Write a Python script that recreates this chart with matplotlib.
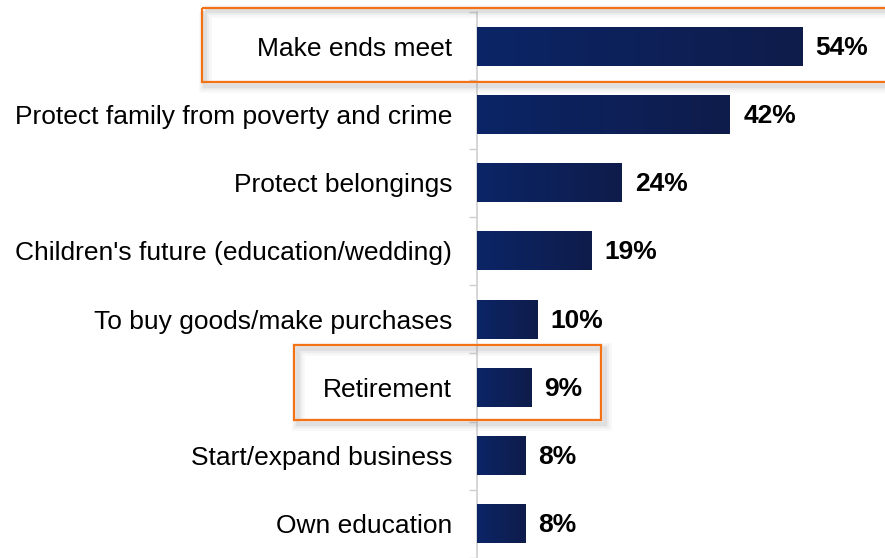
import numpy as np
import matplotlib
matplotlib.use("Agg")
import matplotlib.pyplot as plt
import matplotlib.patheffects as pe
from matplotlib.colors import LinearSegmentedColormap
from matplotlib.patches import Rectangle

plt.rcParams['font.family'] = ['Liberation Sans', 'DejaVu Sans']

# reasons for saving, share of respondents (%)
reasons = [
    "Make ends meet",
    "Protect family from poverty and crime",
    "Protect belongings",
    "Children's future (education/wedding)",
    "To buy goods/make purchases",
    "Retirement",
    "Start/expand business",
    "Own education",
]
shares = [54, 42, 24, 19, 10, 9, 8, 8]
highlighted = ["Make ends meet", "Retirement"]

fig = plt.figure(figsize=(8.85, 5.58), dpi=100)
# axes start at the vertical axis line and run to the right edge
ax = fig.add_axes([476.5 / 885, 0, 1 - 476.5 / 885, 1])

px_per_unit = 6.02
row_px = 68.7
top_px = 46.5
xmax = (885 - 476.5) / px_per_unit
ymin = -top_px / row_px
ymax = (558 - top_px) / row_px

y = np.arange(len(reasons))
bar_h = 0.57

# navy gradient, a little darker toward the end of each bar
navy = LinearSegmentedColormap.from_list("navy", ["#0b2566", "#0f1c4b"])
bars = ax.barh(y, shares, height=bar_h, color="#0d2158", zorder=2)
grad = np.linspace(0, 1, 256).reshape(1, -1)
for b in bars:
    x0, y0 = b.get_x(), b.get_y()
    w, h = b.get_width(), b.get_height()
    im = ax.imshow(grad, cmap=navy, aspect="auto", extent=[x0, x0 + w, y0 + h, y0],
                   zorder=3, interpolation="bilinear")
    im.set_clip_path(b)

for yi, v in zip(y, shares):
    ax.annotate(f"{v}%", xy=(v, yi), xytext=(10, -1), textcoords="offset points",
                ha="left", va="center", fontsize=19, fontweight="bold", color="black")

ax.set_xlim(0, xmax)
ax.set_ylim(ymax, ymin)

ax.set_yticks(y)
ax.set_yticklabels(reasons, fontsize=19)
ax.tick_params(axis="y", which="major", length=0, pad=17.6)
ax.set_yticks(np.arange(len(reasons) + 1) - 0.5, minor=True)
ax.tick_params(axis="y", which="minor", length=6, width=1, color="#d0d0d0")
ax.set_xticks([])
for side in ["top", "right", "bottom"]:
    ax.spines[side].set_visible(False)
ax.spines["left"].set_color("#d0d0d0")
ax.spines["left"].set_linewidth(1.2)
ax.spines["left"].set_bounds(-0.5, len(reasons) - 0.5)

# orange frames around the highlighted rows, with a soft shadow
shadow = [pe.SimpleLineShadow(offset=(2.5, -2.5), shadow_color="gray", alpha=a, linewidth=lw)
          for lw, a in [(9, 0.06), (6, 0.08), (3, 0.12)]]
frames = {
    "Make ends meet": (-45.6, 72, -0.56, 0.53),
    "Retirement": (-30.3, 20.7, -0.62, 0.48),
}
for name in highlighted:
    i = reasons.index(name)
    x0, x1, d0, d1 = frames[name]
    r = Rectangle((x0, i + d0), x1 - x0, d1 - d0, fill=False, edgecolor="#f47216",
                  linewidth=1.6, clip_on=False, zorder=5,
                  path_effects=shadow + [pe.Normal()])
    ax.add_patch(r)

fig.savefig("out.png", dpi=100)
